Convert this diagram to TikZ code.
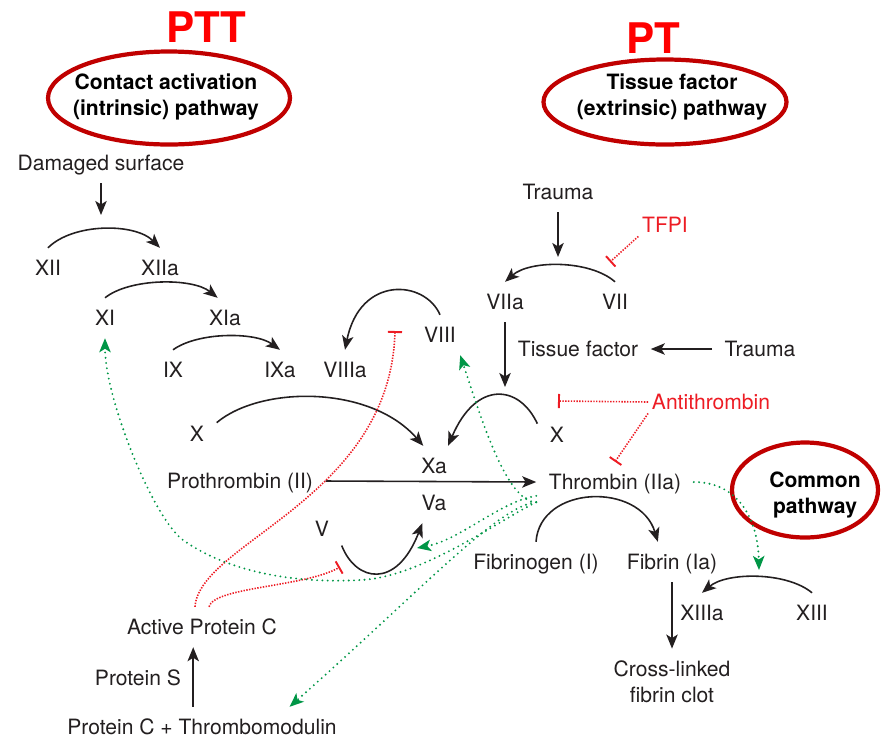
\documentclass[tikz,border=0pt]{standalone}
\usepackage{fontspec}
\setmainfont{TeX Gyre Heros}
\usetikzlibrary{arrows.meta, positioning, calc}
\definecolor{inkc}{RGB}{35,31,32}
\definecolor{ringred}{RGB}{192,0,0}
\definecolor{inhred}{RGB}{237,28,36}
\definecolor{actgreen}{RGB}{0,150,70}
\definecolor{testred}{RGB}{255,0,0}

\tikzset{
  lbl/.style={font=\fontsize{12}{14.5}\selectfont, text=inkc, inner sep=7pt, text height=8.6pt, text depth=0pt},
  lbl2/.style={font=\fontsize{12}{14.5}\selectfont, text=inkc, inner sep=7pt, align=center},
  redlbl/.style={font=\fontsize{12}{14.5}\selectfont, text=inhred, inner sep=2pt, text height=8.6pt, text depth=0pt},
  ringlbl/.style={font=\fontsize{12}{14.5}\selectfont\bfseries, text=black, align=center, inner sep=0pt},
  testlbl/.style={font=\fontsize{24}{28}\selectfont\bfseries, text=testred, inner sep=0pt},
  ring/.style={draw=ringred, line width=2.4pt},
  conv/.style={draw=inkc, line width=0.9pt, -{Stealth[length=8pt,width=6.5pt,inset=2pt]}},
  inhib/.style={draw=inhred, line width=0.9pt, dash pattern=on 0.8pt off 0.8pt, -{Bar[width=8pt,line width=1.1pt]}},
  act/.style={draw=actgreen, line width=1.2pt, line cap=round, dash pattern=on 0pt off 3pt, -{Stealth[length=8pt,width=6.5pt,inset=2pt,fill=actgreen]}}
}

\begin{document}
\begin{tikzpicture}[x=0.02cm, y=-0.02cm]
    \useasboundingbox (0,0) rectangle (881,738);

    % test names and pathway rings
    \node[testlbl] (ptt) at (206,27) {PTT};
    \node[testlbl] (pt) at (653,38) {PT};
    \draw[ring] (169,98) ellipse [x radius=121, y radius=46.5];
    \node[ringlbl] (intr) at (166,97) {Contact activation\\(intrinsic) pathway};
    \draw[ring] (665,102) ellipse [x radius=121.5, y radius=42.5];
    \node[ringlbl] (extr) at (672,97) {Tissue factor\\(extrinsic) pathway};
    \draw[ring] (805,490) ellipse [x radius=73, y radius=47.5];
    \node[ringlbl] (cmn) at (815,495) {Common\\pathway};

    % intrinsic cascade
    \node[lbl] (dmg) at (101,163) {Damaged surface};
    \node[lbl] (xii) at (48,268) {XII};
    \node[lbl] (xiia) at (160,268) {XIIa};
    \node[lbl] (xi) at (105,318) {XI};
    \node[lbl] (xia) at (225,318) {XIa};
    \node[lbl] (ix) at (173,370) {IX};
    \node[lbl] (ixa) at (280,370) {IXa};
    \node[lbl] (viiia) at (345,370) {VIIIa};
    \node[lbl] (viii) at (440,335) {VIII};
    \coordinate (inXII) at (101,215);

    \draw[conv] (dmg.south) -- (inXII);
    \draw[conv] (xii.north) .. controls +(25,-25) and +(-25,-25) .. (xiia.north);
    \draw[conv] (xi.north) .. controls +(25,-20) and +(-25,-20) .. (xia.110);
    \draw[conv] (ix.north) .. controls +(25,-18) and +(-25,-18) .. (ixa.north);
    \draw[conv] (viii.north) .. controls +(-15,-35) and +(15,-75) .. (viiia.north);

    % extrinsic cascade
    \node[lbl] (trA) at (558,192) {Trauma};
    \node[redlbl] (tfpi) at (665,225) {TFPI};
    \node[lbl] (viia) at (505,302) {VIIa};
    \node[lbl] (vii) at (615,302) {VII};
    \node[lbl] (tf) at (578,349) {Tissue factor};
    \node[lbl] (trB) at (760,349) {Trauma};
    \coordinate (inVII) at (558,257);
    \coordinate (tfpiBar) at (610,262);

    \draw[conv] (trA.south) -- (inVII);
    \draw[conv] (vii.north) .. controls +(-25,-22) and +(25,-22) .. (viia.north);
    \draw[inhib] (tfpi.south west) -- (tfpiBar);
    \draw[conv] (trB.west) -- (tf.east);

    % common pathway
    \node[lbl] (xl) at (197,434) {X};
    \node[lbl] (xa) at (434,466) {Xa};
    \node[lbl] (xr) at (557,435) {X};
    \node[redlbl] (anti) at (711,402) {Antithrombin};
    \node[lbl] (proth) at (240,481) {Prothrombin (II)};
    \node[lbl] (thr) at (615,482) {Thrombin (IIa)};
    \node[lbl] (va) at (434,503) {Va};
    \node[lbl] (v) at (322,529) {V};
    \coordinate (inX) at (505,387);
    \coordinate (antiBar) at (558,401);

    \draw[conv] (viia.south) -- (inX);
    \draw[conv] (xl.30) .. controls +(44,-37) and +(-53,-61) .. (xa.118);
    \draw[conv] (xr.150) .. controls +(-18,-39) and +(28,-66) .. (xa.55);
    \draw[conv] (proth.east) -- (thr.west);
    \draw[conv] (v.-40) .. controls +(14,36) and +(-26,67) .. (va.-120);
    \draw[inhib] (anti.west) -- (antiBar);
    \draw[inhib] (anti.south west) -- (thr.north);

    % fibrin
    \node[lbl] (fbg) at (536,562) {Fibrinogen (I)};
    \node[lbl] (fbn) at (672,562) {Fibrin (Ia)};
    \node[lbl] (xiiia) at (702,613) {XIIIa};
    \node[lbl] (xiii) at (812,613) {XIII};
    \node[lbl2] (clot) at (672,682) {Cross-linked\\fibrin clot};

    \draw[conv] (fbg.north) .. controls +(4,-57) and +(-18,-60) .. (fbn.125);
    \draw[conv] (fbn.south) -- (clot.north);
    \draw[conv] (xiii.north) .. controls +(-25,-21) and +(25,-21) .. (xiiia.north);

    % protein C
    \node[lbl] (apc) at (202,627) {Active Protein C};
    \node[lbl] (ps) at (138,678) {Protein S};
    \node[lbl] (pctm) at (202,727) {Protein C + Thrombomodulin};
    \coordinate (viiiBar) at (395,331);
    \coordinate (vBar) at (340,567);

    \draw[conv] ([xshift=-5pt]pctm.north) -- ([xshift=-5pt]apc.south);
    \draw[inhib] ([xshift=-4pt]apc.north) .. controls +(5,-65) and +(-5,168) .. (viiiBar);
    \draw[inhib] ([xshift=4pt]apc.north) .. controls +(5,-20) and +(-35,20) .. (vBar);

    % thrombin feedback
    \coordinate (inXIII) at (759,570);
    \coordinate (inVa) at (417,548);
    \coordinate (xiWayA) at (360,580);
    \coordinate (xiWayB) at (183,540);

    \draw[act] (thr.east) .. controls +(45,0) and +(-1,-50) .. (inXIII);
    \draw[act] (thr.190) .. controls +(-35,5) and +(43,-8) .. (inVa);
    \draw[act] (thr.south west) .. controls +(-30,0) and +(20,60) .. (viii.-45);
    \draw[act] (thr.south west) .. controls +(-37,3) and +(132,-117) .. (pctm.13);
    \draw[act] (thr.south west) .. controls +(-37,18) and +(60,-2) .. (xiWayA)
        .. controls +(-70,4) and +(42,30) .. (xiWayB)
        .. controls +(-30,-22) and +(0,60) .. (xi.south);
\end{tikzpicture}
\end{document}
